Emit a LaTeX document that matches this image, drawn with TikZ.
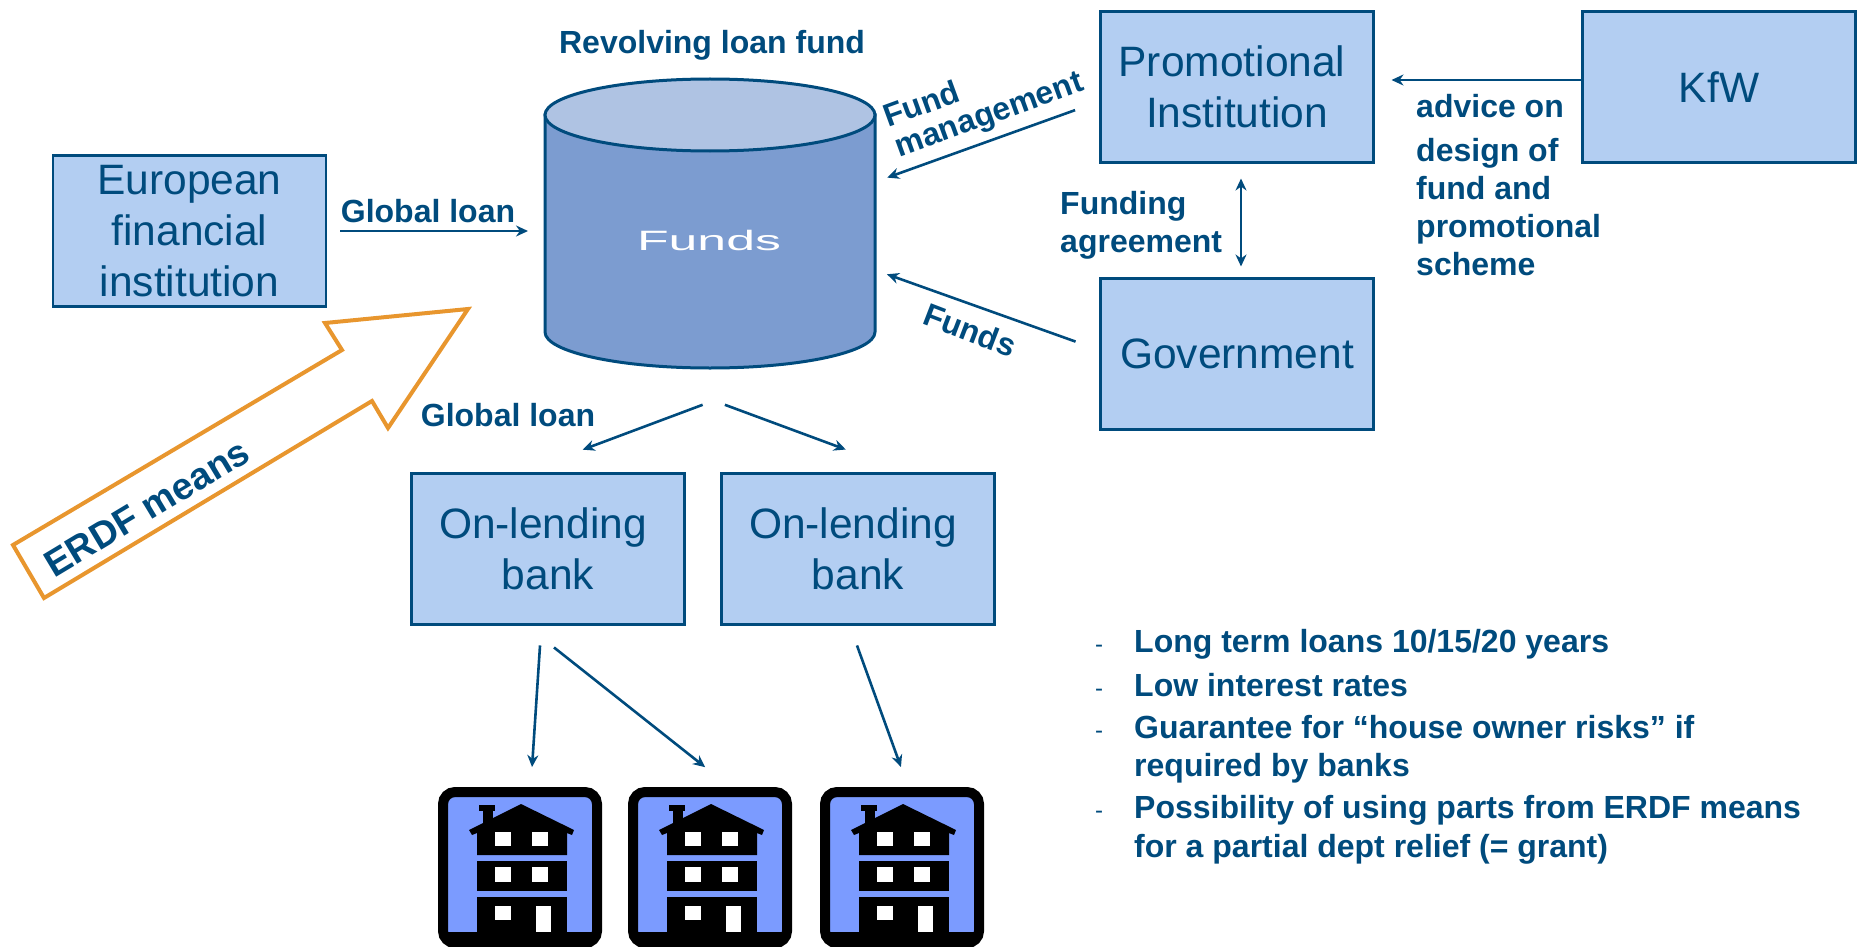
\documentclass[tikz,border=0pt]{standalone}
\usepackage{fontspec}
\setmainfont{Liberation Sans}
\usepackage{tikz}
\usetikzlibrary{arrows.meta, positioning}
\definecolor{navy}{RGB}{0,75,125}
\definecolor{boxblue}{RGB}{179,206,242}
\definecolor{drumtop}{RGB}{175,195,227}
\definecolor{drumbody}{RGB}{124,156,208}
\definecolor{means}{RGB}{232,150,46}
\definecolor{iconblue}{RGB}{123,155,255}
\tikzstyle{box} = [rectangle, draw=navy, line width=2.5pt, fill=boxblue, text=navy, minimum width=273pt, minimum height=151pt, inner sep=0pt, outer sep=0pt, align=center, font=\fontsize{42.5}{51}\selectfont]
\tikzstyle{tag} = [text=navy, inner sep=0pt, font=\fontsize{32}{38}\selectfont\bfseries]
\tikzstyle{flow} = [draw=navy, line width=2.6pt, ->, >={Stealth[length=12pt,width=11pt]}]
\tikzstyle{drum} = [draw=navy, line width=3pt]
\tikzstyle{iconbox} = [rectangle, rounded corners=12pt, draw=black, line width=10pt, fill=iconblue, minimum width=154pt, minimum height=151pt, inner sep=0pt, outer sep=0pt]
\tikzset{tenement/.pic={
  \begin{scope}[shift={(-82,80.5)}]
  \fill [black] (10,-145) rectangle (155,-155);
  \fill [black] (41,-18) rectangle (57,-24);
  \fill [black] (45,-18) rectangle (55,-42);
  \fill [black] (83,-17) -- (136,-43) -- (134,-48) -- (129,-46) -- (129,-68) -- (39,-68) -- (39,-46) -- (34,-48) -- (31,-43) -- cycle;
  \fill [black] (39,-74) rectangle (129,-104);
  \fill [black] (39,-110) rectangle (129,-145);
  \fill [white] (57,-45) rectangle (73,-59);
  \fill [white] (94,-45) rectangle (110,-59);
  \fill [white] (57,-80) rectangle (73,-95);
  \fill [white] (94,-80) rectangle (110,-95);
  \fill [white] (57,-119) rectangle (73,-133);
  \fill [white] (98,-119) rectangle (113,-145);
  \end{scope}
}}

\begin{document}
\begin{tikzpicture}[x=1pt, y=1pt]
\useasboundingbox (0,0) rectangle (1857,-947);

\node [box] (euro) at (189.5,-231) {European\\financial\\institution};
\node [box] (promo) at (1237,-87) {Promotional\kern10pt\\Institution};
\node [box] (kfw) [right=209pt of promo] {KfW};
\node [box] (gov) [below=116pt of promo] {Government};
\node [box] (bank1) at (548,-549) {On-lending\kern10pt\\bank};
\node [box] (bank2) [right=37pt of bank1] {On-lending\kern10pt\\bank};

\node [rectangle, minimum width=330pt, minimum height=289pt, inner sep=0pt, outer sep=0pt] (funds) at (710,-223.5) {};
\draw [drum, fill=drumbody] ([yshift=-36pt]funds.north west) -- ([yshift=36pt]funds.south west) arc [start angle=180, end angle=360, x radius=165pt, y radius=36pt] -- ([yshift=-36pt]funds.north east) -- cycle;
\draw [drum, fill=drumtop] ([yshift=-36pt]funds.north) ellipse [x radius=165pt, y radius=36pt];
\node [text=white, font=\fontsize{28}{30}\selectfont] (fundstext) at (709,-240) {\scalebox{1.85}[1]{Funds}};

\node [iconbox] (house1) at (520,-867.5) {};
\node [iconbox] (house2) [right=36pt of house1] {};
\node [iconbox] (house3) [right=38pt of house2] {};
\foreach \n in {1,2,3}
  \pic at (house\n) {tenement};

\draw [means, line width=4pt, line join=miter] (13,-545) -- (44,-598) -- (372,-401) -- (388,-428) -- (468,-309) -- (325,-323) -- (342,-350) -- cycle;
\node [tag, rotate=31, font=\fontsize{37.5}{38}\selectfont\bfseries] (erdf) at (147,-508) {ERDF means};

\node [tag] (revolving) at (712,-45) {Revolving loan fund};
\node [tag] (loan1) at (428,-211) {Global loan};
\node [tag] (loan2) at (508,-415) {Global loan};
\node [tag, rotate=20, align=left] (mgmt) at (984,-101) {Fund\\[-6pt]management};
\node [tag, rotate=-21] (fundsflow) at (970,-330) {Funds};
\node [tag, align=left, anchor=west] (agreement) at (1060,-225) {Funding\\agreement};
\node [tag, align=left, anchor=west] (advice) at (1416,-185) {advice on\\[6pt]design of\\fund and\\promotional\\scheme};

\foreach \n/\y/\txt in {1/652.6/{Long term loans 10/15/20 years}, 2/696/{Low interest rates}, 3/738/{Guarantee for “house owner risks” if}, 4/776/{required by banks}, 5/818/{Possibility of using parts from ERDF means}, 6/857/{for a partial dept relief (= grant)}}
  \node [tag, anchor=base west] (point\n) at (1134,-\y) {\txt};
\foreach \n in {1,2,3,5}
  \node [text=navy, inner sep=0pt, anchor=base, font=\fontsize{24}{26}\selectfont] (dash\n) at (1099,0 |- point\n.base) {-};

\draw [flow, shorten <=14pt, shorten >=17pt] (euro.east) to (euro.east -| funds.west);
\draw [flow, shorten <=27pt, shorten >=13pt] ([yshift=-14pt]promo.west) to ([yshift=41.5pt]funds.east);
\draw [flow, shorten <=26.5pt, shorten >=12.7pt] ([yshift=3.5pt]gov.west) to ([yshift=-46.5pt]funds.east);
\draw [flow, <->, shorten <=16pt, shorten >=12pt] ([xshift=4pt]promo.south) to ([xshift=4pt]gov.north);
\draw [flow, shorten <=2pt, shorten >=18pt] ([yshift=7pt]kfw.west) to ([yshift=7pt]promo.east);
\draw [flow, shorten <=105pt, shorten >=68pt] ([xshift=91pt]funds.south) to ([xshift=-29pt]bank1.north);
\draw [flow, shorten <=106pt, shorten >=69pt] ([xshift=-84.5pt]funds.south) to ([xshift=52.5pt]bank2.north);
\draw [flow, shorten <=21pt, shorten >=25pt] ([xshift=-6.6pt]bank1.south) to ([xshift=10.4pt]house1.north);
\draw [flow, shorten <=37pt, shorten >=40pt] ([xshift=-23pt]bank1.south) to ([xshift=26.5pt]house2.north);
\draw [flow, shorten <=22.3pt, shorten >=26.6pt] ([xshift=-8.6pt]bank2.south) to ([xshift=8pt]house3.north);
\end{tikzpicture}
\end{document}
